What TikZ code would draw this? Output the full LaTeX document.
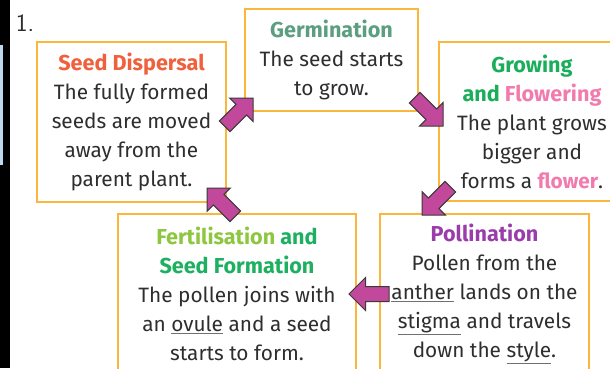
\documentclass[tikz,border=0pt]{standalone}
\usepackage{fontspec}
\setmainfont{Fira Sans}
\usepackage{xcolor}
\usetikzlibrary{shapes.arrows,calc}

\definecolor{boxorange}{HTML}{FBB63C}
\definecolor{arrowfill}{HTML}{C2489B}
\definecolor{arrowdraw}{HTML}{3A3A3A}
\definecolor{textdark}{HTML}{2E2E2E}
\definecolor{linegray}{HTML}{707070}
\definecolor{dispred}{HTML}{F0603C}
\definecolor{germgreen}{HTML}{5B9E80}
\definecolor{growgreen}{HTML}{1AAE5A}
\definecolor{flowerpink}{HTML}{F27BAE}
\definecolor{fertlime}{HTML}{8DC63F}
\definecolor{seedgreen}{HTML}{1DB060}
\definecolor{pollpurple}{HTML}{9A3DAA}
\definecolor{stripblue}{HTML}{BDD7EE}

\newcommand{\uword}[1]{{\color{linegray}\underline{\color{textdark}#1}}}
\newcommand{\stagetitle}{\fontsize{21.6}{29}\selectfont\bfseries}

\begin{document}
\begin{tikzpicture}[x=1pt,y=-1pt,
  stage/.style={draw=boxorange, line width=2pt, fill=white, align=center, text=textdark,
    font=\fontsize{20.8}{29}\selectfont, inner sep=0pt, outer sep=0pt},
  fatarrow/.style={single arrow, draw=arrowdraw, fill=arrowfill, line width=1pt,
    minimum height=40pt, single arrow head extend=9pt,
    inner xsep=0pt, inner ysep=7pt, outer sep=0pt, anchor=tip}]
\path[use as bounding box] (0,0) rectangle (610,368);
\clip (0,0) rectangle (610,368);
% left edge
\fill[black] (0,0) rectangle (10,368);
\fill[stripblue] (0,45) rectangle (3,165);
\node[text=textdark, font=\sffamily\fontsize{25}{25}\selectfont] (num) at (25,23) {1.};
% stage boxes
\node[stage, minimum width=189pt, minimum height=160pt] (disp) at (131.5,122)
  {{\stagetitle\color{dispred}Seed Dispersal}\\The fully formed\\seeds are moved\\away from the\\parent plant.};
\node[stage, minimum width=173pt, minimum height=102pt] (germ) at (331.5,60)
  {{\stagetitle\color{germgreen}Germination}\\The seed starts\\to grow.};
\node[stage, minimum width=186pt, minimum height=159pt] (grow) at (532,121.5)
  {{\stagetitle\color{growgreen}Growing}\\{\stagetitle\color{growgreen}and \color{flowerpink}Flowering}\\The plant grows\\bigger and\\forms a {\bfseries\color{flowerpink}flower}.};
\node[stage, minimum width=238pt, minimum height=160pt] (fert) at (237,294)
  {{\stagetitle\color{fertlime}Fertilisation \color{seedgreen}and}\\{\stagetitle\color{seedgreen}Seed Formation}\\The pollen joins with\\an \uword{ovule} and a seed\\starts to form.};
\node[stage, minimum width=209pt, minimum height=160pt] (poll) at (484.5,294)
  {{\stagetitle\color{pollpurple}Pollination}\\Pollen from the\\\uword{anther} lands on the\\\uword{stigma} and travels\\down the \uword{style}.};
% cycle arrows
\node[fatarrow, rotate=45] (a1) at ($(germ.south west)+(8,-13)$) {};
\node[fatarrow, rotate=-45] (a2) at ($(grow.west)+(4,4.5)$) {};
\node[fatarrow, rotate=-135] (a3) at ($(poll.north west)+(42,1)$) {};
\node[fatarrow, rotate=180] (a4) at ($(fert.east)+(-7,0)$) {};
\node[fatarrow, rotate=135] (a5) at ($(disp.south east)+(-19,-14)$) {};
\end{tikzpicture}
\end{document}
